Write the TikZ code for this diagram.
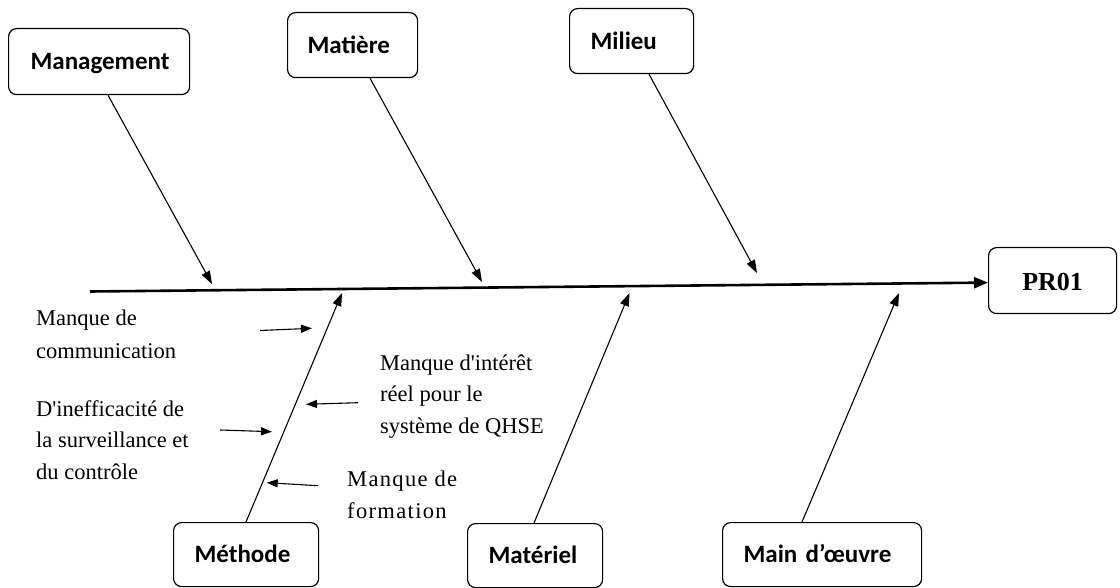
\documentclass[tikz,border=0pt]{standalone}
\usepackage{fontspec}
\usetikzlibrary{arrows.meta,calc}
\newfontfamily\labfont{Carlito}
\newfontfamily\causefont{Liberation Serif}
\newfontfamily\causefontsp{Liberation Serif}[LetterSpace=6]
\begin{document}
\begin{tikzpicture}[x=1pt,y=-1pt,
  box/.style={draw, line width=1.2pt, rounded corners=8pt, anchor=north west, align=left,
    inner ysep=0pt, text height=16pt, text depth=0pt,
    font=\labfont\bfseries\fontsize{25}{29}\selectfont},
  cause/.style={anchor=base west, align=left, inner sep=0pt, font=\causefont\fontsize{22.5}{31.5}\selectfont},
  bone/.style={line width=1.1pt, -{Triangle[length=13pt,width=9pt]}},
  sub/.style={line width=1.1pt, -{Triangle[length=11pt,width=8pt]}},
  spine/.style={line width=2.6pt, -{Triangle[length=14pt,width=11pt]}}
]
\fill[white] (0,0) rectangle (1120,588);
\useasboundingbox (0,0) rectangle (1120,588);

% boxes
\node[box, inner xsep=22pt, text width=137pt, minimum height=66pt] (mgmt) at (8,28) {Management};
\node[box, inner xsep=20pt, text width=90pt, minimum height=65pt] (mat) at (287,12) {Matière};
\node[box, inner xsep=21pt, text width=82pt, minimum height=65pt] (mil) at (569,8) {Milieu};
\node[box, inner xsep=21pt, text width=103pt, minimum height=64pt] (meth) at (173,522) {Méthode};
\node[box, inner xsep=21pt, text width=93pt, minimum height=64pt] (matl) at (467,523) {Matériel};
\node[box, inner xsep=21pt, text width=157pt, minimum height=64pt] (mo) at (722,522) {Main~d’œuvre};
\node[draw, line width=1.2pt, rounded corners=8pt, anchor=north west, minimum width=128pt,
  minimum height=66pt, inner sep=0pt, text height=19pt, text depth=0pt,
  font=\causefont\bfseries\fontsize{26}{30}\selectfont] (pr) at (988,247) {PR01};

% spine
\coordinate (s0) at (90,291.5);
\draw[spine] (s0) -- ([yshift=-2pt]pr.west);

% branch tips
\coordinate (tMg) at (212,284);
\coordinate (tMa) at (482,282);
\coordinate (tMi) at (757,273);
\coordinate (tMe) at (342,293);
\coordinate (tMl) at (629.5,293);
\coordinate (tMo) at (899,293);

\draw[bone] ([xshift=100pt]mgmt.south west) -- (tMg);
\draw[bone] ([xshift=83pt]mat.south west) -- (tMa);
\draw[bone] ([xshift=80pt]mil.south west) -- (tMi);
\draw[bone] ([xshift=73pt]meth.north west) -- (tMe);
\draw[bone] ([xshift=67pt]matl.north west) -- (tMl);
\draw[bone] ([xshift=80pt]mo.north west) -- (tMo);

% cause texts (anchored at the baseline of the last line)
\node[cause, font=\causefont\fontsize{22.5}{32.5}\selectfont] (c1) at (36,358) {Manque de\\communication};
\node[cause] (c2) at (36,479) {D'inefficacité de\\la surveillance et\\du contrôle};
\node[cause] (c3) at (380,433) {Manque d'intérêt\\réel pour le\\système de QHSE};
\node[cause, font=\causefontsp\fontsize{22.5}{31.5}\selectfont] (c4) at (347,518) {Manque de\\formation};

% sub arrows
\coordinate (a1s) at (260,330.5); \coordinate (a1e) at (312,328.3);
\coordinate (a2s) at (220,430);   \coordinate (a2e) at (272,431.7);
\coordinate (a3s) at (358,402.7); \coordinate (a3e) at (306,404.3);
\coordinate (a4s) at (318,485.7); \coordinate (a4e) at (266.7,482.7);
\draw[sub] (a1s) -- (a1e);
\draw[sub] (a2s) -- (a2e);
\draw[sub] (a3s) -- (a3e);
\draw[sub] (a4s) -- (a4e);
\end{tikzpicture}
\end{document}
